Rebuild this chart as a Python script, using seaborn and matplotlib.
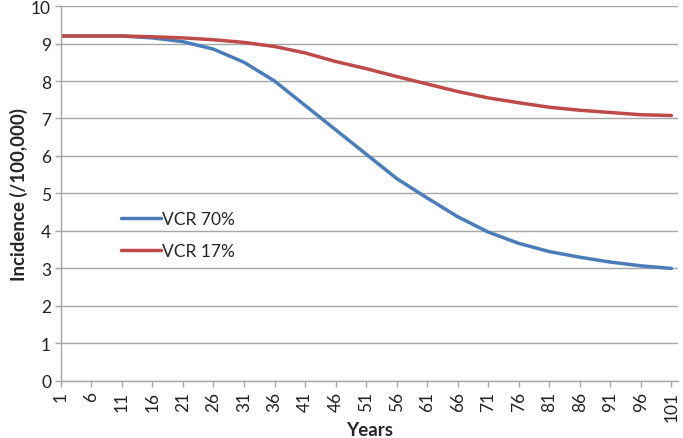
import pandas as pd
import matplotlib
matplotlib.use("Agg")
import matplotlib.pyplot as plt
import seaborn as sns

sns.set_theme(style="white")
plt.rcParams["font.family"] = ["Lato", "DejaVu Sans"]

years = [1, 6, 11, 16, 21, 26, 31, 36, 41, 46, 51, 56, 61, 66, 71, 76, 81, 86, 91, 96, 101]
vcr_70 = [9.2, 9.2, 9.2, 9.15, 9.05, 8.85, 8.5, 8.0, 7.35, 6.7, 6.05, 5.4, 4.88,
          4.38, 3.97, 3.67, 3.45, 3.3, 3.17, 3.07, 3.0]
vcr_17 = [9.2, 9.2, 9.2, 9.18, 9.15, 9.1, 9.03, 8.92, 8.75, 8.52, 8.33, 8.12, 7.92,
          7.72, 7.55, 7.42, 7.3, 7.22, 7.16, 7.1, 7.08]
series_names = ["VCR 70%", "VCR 17%"]
colors = ["#4a7ebb", "#be4b48"]

df = pd.concat([
    pd.DataFrame({"year": years, "incidence": vcr_70, "scenario": series_names[0]}),
    pd.DataFrame({"year": years, "incidence": vcr_17, "scenario": series_names[1]}),
])

fig = plt.figure(figsize=(6.83, 4.39), dpi=100)
ax = fig.add_axes([0.089, 0.130, 0.903, 0.854])

sns.lineplot(data=df, x="year", y="incidence", hue="scenario",
             palette=dict(zip(series_names, colors)), linewidth=2.5, ax=ax)

ax.set_xlim(1, 102)
ax.set_ylim(0, 10)
ax.set_xticks(years)
ax.set_xticklabels([str(y) for y in years], rotation=90, fontsize=12.5, color="#222222")
ax.set_yticks(range(0, 11))
ax.set_yticklabels([str(v) for v in range(0, 11)], fontsize=12.5, color="#222222")

ax.yaxis.grid(True, color="#a6a6a6", linewidth=1)
ax.set_axisbelow(True)
for side in ["top", "right"]:
    ax.spines[side].set_visible(False)
for side in ["left", "bottom"]:
    ax.spines[side].set_color("#a6a6a6")
    ax.spines[side].set_linewidth(1)
ax.tick_params(axis="both", which="both", direction="out", length=4,
               color="#a6a6a6", width=1, pad=3, left=True, bottom=True)

ax.set_xlabel("Years", fontsize=13.5, fontweight="bold", labelpad=0)
ax.set_ylabel("Incidence (/100,000)", fontsize=13.5, fontweight="bold", labelpad=2)

leg = ax.legend(loc="upper left", bbox_to_anchor=(0.072, 0.495), frameon=False,
                fontsize=12.5, handlelength=2.3, handletextpad=0.1, labelspacing=0.9)
for line in leg.get_lines():
    line.set_linewidth(2.5)

fig.savefig("out.png", dpi=100)
